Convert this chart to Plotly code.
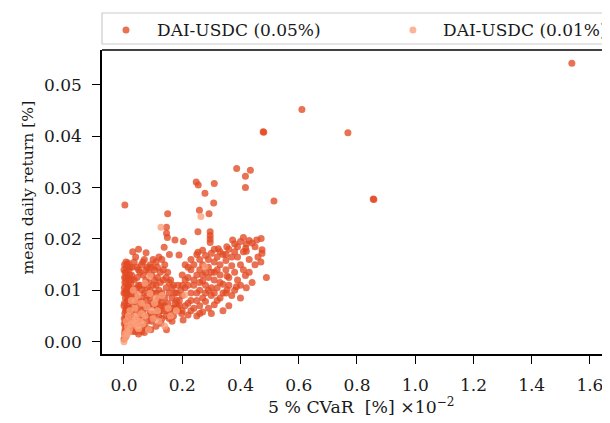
import plotly.graph_objects as go

# ---- data (x: 5% CVaR [%] x1e-2, y: mean daily return [%]) ----
series_names = ["DAI-USDC (0.05%)", "DAI-USDC (0.01%)"]

dai_005_points = [
    # outliers
    (1.538, 0.0542), (0.611, 0.0452), (0.769, 0.0407), (0.478, 0.0409), (0.480, 0.0408),
    (0.856, 0.0278), (0.858, 0.0277), (0.515, 0.0274), (0.003, 0.0266),
    # upper scattered
    (0.387, 0.0337), (0.434, 0.0334), (0.417, 0.0322), (0.417, 0.0300), (0.248, 0.0311),
    (0.255, 0.0305), (0.310, 0.0308), (0.278, 0.0289), (0.308, 0.0270), (0.259, 0.0256),
    (0.292, 0.0249), (0.150, 0.0249), (0.146, 0.0223), (0.146, 0.0211), (0.254, 0.0214),
    (0.296, 0.0214), (0.296, 0.0207), (0.296, 0.0200), (0.296, 0.0193), (0.149, 0.0203),
    (0.175, 0.0198), (0.204, 0.0195), (0.050, 0.0180), (0.076, 0.0173), (0.138, 0.0184),
    (0.156, 0.0170), (0.189, 0.0169), (0.254, 0.0174), (0.324, 0.0181), (0.353, 0.0185),
    (0.373, 0.0198), (0.410, 0.0203), (0.418, 0.0182), (0.471, 0.0201), (0.456, 0.0198),
    (0.474, 0.0179), (0.474, 0.0172), (0.489, 0.0125), (0.417, 0.0129), (0.386, 0.0107),
    (0.354, 0.0128), (0.354, 0.0101),
    # right cluster
    (0.40, 0.0195), (0.38, 0.0190), (0.36, 0.0180), (0.34, 0.0170), (0.43, 0.0197),
    (0.44, 0.0192), (0.42, 0.0176), (0.39, 0.0165), (0.32, 0.0165), (0.30, 0.0172),
    (0.28, 0.0168), (0.26, 0.0160), (0.27, 0.0150), (0.29, 0.0145), (0.31, 0.0155),
    (0.33, 0.0150), (0.35, 0.0158), (0.37, 0.0148), (0.40, 0.0150), (0.41, 0.0140),
    (0.38, 0.0135), (0.36, 0.0125), (0.33, 0.0130), (0.31, 0.0120), (0.29, 0.0125),
    (0.27, 0.0118), (0.25, 0.0130), (0.23, 0.0140), (0.22, 0.0125), (0.24, 0.0110),
    (0.26, 0.0100), (0.28, 0.0095), (0.30, 0.0090), (0.32, 0.0105), (0.34, 0.0112),
    (0.30, 0.0105), (0.27, 0.0085), (0.25, 0.0080), (0.23, 0.0095), (0.21, 0.0105),
    (0.20, 0.0090), (0.22, 0.0075), (0.24, 0.0065), (0.26, 0.0070), (0.28, 0.0078),
    (0.31, 0.0072), (0.33, 0.0085), (0.35, 0.0095), (0.37, 0.0090), (0.40, 0.0085),
    (0.42, 0.0105), (0.44, 0.0115), (0.39, 0.0120), (0.34, 0.0060), (0.30, 0.0055),
    (0.27, 0.0058), (0.25, 0.0050), (0.22, 0.0052), (0.20, 0.0060), (0.198, 0.0055),
    (0.183, 0.0068),
    (0.21, 0.0120), (0.22, 0.0110), (0.23, 0.0080), (0.24, 0.0120), (0.25, 0.0095),
    (0.26, 0.0115), (0.27, 0.0130), (0.28, 0.0110), (0.29, 0.0100), (0.30, 0.0135),
    (0.31, 0.0095), (0.32, 0.0140), (0.33, 0.0115), (0.34, 0.0095), (0.35, 0.0140),
    (0.36, 0.0110), (0.37, 0.0165), (0.38, 0.0175), (0.39, 0.0185), (0.41, 0.0175),
    (0.42, 0.0190), (0.43, 0.0160), (0.45, 0.0185), (0.46, 0.0165), (0.29, 0.0160),
    (0.31, 0.0180), (0.33, 0.0175), (0.35, 0.0170), (0.24, 0.0150), (0.22, 0.0145),
    (0.26, 0.0140), (0.28, 0.0135), (0.23, 0.0060), (0.26, 0.0055), (0.29, 0.0065),
    (0.32, 0.0080), (0.36, 0.0070), (0.38, 0.0100), (0.40, 0.0110), (0.43, 0.0135),
    (0.45, 0.0150), (0.47, 0.0155), (0.21, 0.0070), (0.20, 0.0110), (0.20, 0.0130),
    (0.21, 0.0150), (0.23, 0.0160), (0.25, 0.0170), (0.27, 0.0178), (0.31, 0.0135),
    # middle wedge
    (0.19, 0.0080), (0.18, 0.0095), (0.17, 0.0110), (0.16, 0.0120), (0.15, 0.0135),
    (0.14, 0.0150), (0.13, 0.0160), (0.12, 0.0165), (0.11, 0.0155), (0.10, 0.0160),
    (0.09, 0.0150), (0.08, 0.0145), (0.07, 0.0160), (0.06, 0.0150), (0.05, 0.0140),
    (0.04, 0.0165), (0.03, 0.0175), (0.035, 0.0155), (0.045, 0.0125), (0.055, 0.0110),
    (0.065, 0.0130), (0.075, 0.0120), (0.085, 0.0115), (0.095, 0.0130), (0.105, 0.0140),
    (0.115, 0.0125), (0.125, 0.0135), (0.135, 0.0120), (0.145, 0.0105), (0.155, 0.0095),
    (0.165, 0.0085), (0.175, 0.0075), (0.185, 0.0060), (0.17, 0.0050), (0.16, 0.0065),
    (0.15, 0.0075), (0.14, 0.0085), (0.13, 0.0095), (0.12, 0.0100), (0.11, 0.0110),
    (0.10, 0.0095), (0.09, 0.0100), (0.08, 0.0090), (0.07, 0.0095), (0.06, 0.0085),
    (0.05, 0.0080), (0.04, 0.0090), (0.035, 0.0100), (0.03, 0.0070), (0.045, 0.0060),
    (0.055, 0.0065), (0.065, 0.0070), (0.075, 0.0065), (0.085, 0.0070), (0.095, 0.0075),
    (0.105, 0.0070), (0.115, 0.0080), (0.125, 0.0070), (0.135, 0.0060), (0.145, 0.0050),
    (0.155, 0.0045), (0.165, 0.0040), (0.127, 0.0036), (0.092, 0.0023), (0.146, 0.0023),
    (0.203, 0.0042), (0.11, 0.0030), (0.10, 0.0045), (0.08, 0.0040), (0.07, 0.0030),
    (0.06, 0.0045), (0.05, 0.0035), (0.04, 0.0040), (0.03, 0.0030), (0.12, 0.0050),
    (0.13, 0.0045), (0.09, 0.0055), (0.08, 0.0025), (0.06, 0.0020), (0.04, 0.0020),
    (0.025, 0.0050),
    (0.035, 0.0120), (0.045, 0.0145), (0.055, 0.0135), (0.065, 0.0155), (0.075, 0.0140),
    (0.085, 0.0135), (0.095, 0.0145), (0.105, 0.0120), (0.115, 0.0145), (0.125, 0.0115),
    (0.135, 0.0140), (0.145, 0.0125), (0.155, 0.0115), (0.165, 0.0105), (0.175, 0.0095),
    (0.185, 0.0110), (0.195, 0.0100), (0.05, 0.0110), (0.06, 0.0100), (0.07, 0.0110),
    (0.08, 0.0105), (0.09, 0.0085), (0.10, 0.0110), (0.11, 0.0095), (0.12, 0.0085),
    (0.13, 0.0075), (0.14, 0.0070), (0.15, 0.0060), (0.16, 0.0055), (0.17, 0.0065),
    (0.18, 0.0080), (0.19, 0.0070), (0.035, 0.0080), (0.045, 0.0075), (0.055, 0.0050),
    (0.065, 0.0055), (0.075, 0.0080), (0.085, 0.0050), (0.095, 0.0040), (0.105, 0.0055),
    (0.115, 0.0065), (0.125, 0.0060), (0.035, 0.0045), (0.045, 0.0105), (0.025, 0.0120),
    (0.028, 0.0145), (0.03, 0.0020), (0.05, 0.0015), (0.07, 0.0018),
    # vertical band near zero CVaR
    (0.000, 0.0005), (0.002, 0.0015), (0.004, 0.0025), (0.001, 0.0035), (0.006, 0.0045),
    (0.003, 0.0055), (0.008, 0.0065), (0.002, 0.0075), (0.005, 0.0085), (0.010, 0.0095),
    (0.001, 0.0105), (0.007, 0.0115), (0.012, 0.0125), (0.004, 0.0135), (0.009, 0.0145),
    (0.014, 0.0153), (0.002, 0.0150), (0.016, 0.0140), (0.018, 0.0120), (0.015, 0.0110),
    (0.020, 0.0100), (0.017, 0.0090), (0.022, 0.0080), (0.013, 0.0070), (0.019, 0.0060),
    (0.011, 0.0050), (0.016, 0.0040), (0.009, 0.0030), (0.014, 0.0020), (0.006, 0.0010),
    (0.003, 0.0115), (0.006, 0.0125), (0.000, 0.0140), (0.008, 0.0100), (0.011, 0.0080),
    (0.024, 0.0110), (0.026, 0.0130), (0.021, 0.0145), (0.025, 0.0090), (0.028, 0.0060),
    (0.000, 0.0095), (0.005, 0.0060), (0.001, 0.0045), (0.010, 0.0040), (0.012, 0.0105),
    (0.018, 0.0025), (0.022, 0.0035), (0.000, 0.0070), (0.003, 0.0020), (0.007, 0.0155),
    (0.004, 0.0095), (0.013, 0.0085), (0.019, 0.0130), (0.008, 0.0135), (0.015, 0.0065),
    (0.002, 0.0125), (0.022, 0.0055), (0.012, 0.0150), (0.006, 0.0035), (0.017, 0.0105),
]

dai_001_points = [
    (0.000, 0.0000), (0.005, 0.0008), (0.009, 0.0012), (0.015, 0.0018), (0.020, 0.0025),
    (0.012, 0.0030), (0.025, 0.0035), (0.030, 0.0040), (0.038, 0.0036), (0.038, 0.0050),
    (0.038, 0.0065), (0.038, 0.0080), (0.042, 0.0045), (0.045, 0.0030), (0.050, 0.0025),
    (0.055, 0.0040), (0.060, 0.0055), (0.065, 0.0035), (0.072, 0.0050), (0.078, 0.0068),
    (0.084, 0.0023), (0.089, 0.0094), (0.072, 0.0114), (0.089, 0.0128), (0.095, 0.0060),
    (0.100, 0.0045), (0.105, 0.0075), (0.110, 0.0085), (0.115, 0.0060), (0.120, 0.0040),
    (0.130, 0.0090), (0.152, 0.0065), (0.209, 0.0091), (0.278, 0.0146), (0.264, 0.0244),
    (0.127, 0.0223), (0.020, 0.0060), (0.025, 0.0080), (0.015, 0.0050), (0.010, 0.0020),
    (0.032, 0.0100), (0.048, 0.0090), (0.060, 0.0075), (0.008, 0.0040), (0.003, 0.0015),
    (0.140, 0.0030), (0.160, 0.0050), (0.180, 0.0060),
]

x_ticks = [0.0, 0.2, 0.4, 0.6, 0.8, 1.0, 1.2, 1.4, 1.6]
y_ticks = [0.00, 0.01, 0.02, 0.03, 0.04, 0.05]

colors = ["#e24a23", "#fb9f7a"]
ALPHA = 0.78
FONT = "DejaVu Serif"
TXT = "#1a1a1a"

fig = go.Figure()
for pts, name, col in [(dai_005_points, series_names[0], colors[0]),
                       (dai_001_points, series_names[1], colors[1])]:
    xs = [p[0] for p in pts]
    ys = [p[1] for p in pts]
    fig.add_trace(go.Scatter(x=xs, y=ys, mode="markers", name=name, showlegend=False,
                             marker=dict(size=7, color=col, opacity=ALPHA, line=dict(width=0))))

axis_common = dict(showgrid=False, zeroline=False, showline=True, linecolor="black", linewidth=1.5,
                   ticks="outside", ticklen=8, tickwidth=1.3, tickcolor="black",
                   ticklabelstandoff=7,
                   tickfont=dict(family=FONT, size=17, color=TXT), mirror=False)

fig.update_xaxes(range=[-0.0755, 1.669], tickvals=x_ticks, tickformat=".1f", **axis_common)
fig.update_yaxes(range=[-0.0024, 0.0568], tickvals=y_ticks, tickformat=".2f", **axis_common)

LEG_Y = 1.0658
shapes = [
    # top spine
    dict(type="line", xref="paper", yref="paper", x0=0, x1=1, y0=1, y1=1,
         line=dict(color="black", width=1.5)),
    # legend frame
    dict(type="rect", xref="paper", yref="paper", x0=0.0, x1=1.02, y0=1.0197, y1=1.1217,
         line=dict(color="#cccccc", width=1.2), fillcolor="rgba(255,255,255,0.8)"),
]
legend_mx = [0.0472, 0.612]
legend_tx = [0.1045, 0.6675]
annotations = []
for i in range(2):
    shapes.append(dict(type="circle", xref="paper", yref="paper", xsizemode="pixel", ysizemode="pixel",
                       xanchor=legend_mx[i], yanchor=LEG_Y, x0=-3.5, x1=3.5, y0=-3.5, y1=3.5,
                       fillcolor=colors[i], opacity=ALPHA, line=dict(width=0)))
    annotations.append(dict(xref="paper", yref="paper", x=legend_tx[i], y=LEG_Y, xanchor="left",
                            yanchor="middle", showarrow=False, text=series_names[i],
                            font=dict(family=FONT, size=17, color=TXT)))

annotations.append(dict(xref="paper", yref="paper", x=(361 - 102) / 508, y=(354 - 406) / 304,
                        xanchor="center", yanchor="middle", showarrow=False,
                        text="5 % CVaR \u00a0[%] ×10<sup>−2</sup>",
                        font=dict(family=FONT, size=17.3, color=TXT)))
annotations.append(dict(xref="paper", yref="paper", x=(27 - 102) / 508, y=(354 - 187.5) / 304,
                        xanchor="center", yanchor="middle", showarrow=False, textangle=-90,
                        text="mean daily return [%]",
                        font=dict(family=FONT, size=15.6, color=TXT)))

# page body has an 8px default margin -> figure covers 8..610 x 8..423
fig.update_layout(width=602, height=415, margin=dict(l=94, r=0, t=42, b=69),
                  plot_bgcolor="white", paper_bgcolor="white", showlegend=False,
                  shapes=shapes, annotations=annotations,
                  font=dict(family=FONT, size=16, color=TXT))

fig.write_html("out.html")
